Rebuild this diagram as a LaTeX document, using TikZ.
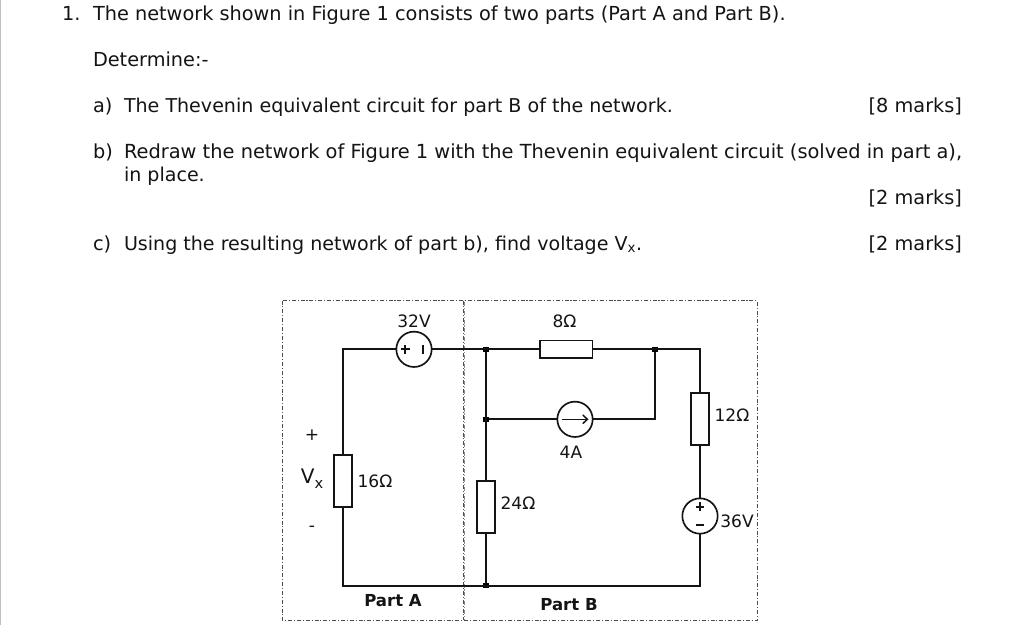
\documentclass[tikz,border=0pt]{standalone}
\usepackage{fontspec}
\usetikzlibrary{arrows.meta}
\setmainfont{DejaVu Sans}
\tikzset{
  x=0.75pt,y=-0.75pt,
  every node/.style={inner sep=0pt,outer sep=0pt,text=black!92},
  txt/.style={anchor=base west,font=\fontsize{14.48}{16}\selectfont},
  txtn/.style={anchor=base west,font=\fontsize{14.3}{16}\selectfont},
  txtb/.style={anchor=base west,font=\fontsize{14.55}{16}\selectfont},
  lbl/.style={anchor=base,font=\fontsize{12.8}{15}\selectfont},
  bold/.style={anchor=base,font=\fontsize{12.4}{15}\selectfont\bfseries},
  wire/.style={draw=black!92,line width=1.25pt,line join=miter},
  res/.style={draw=black!92,fill=white,line width=1.25pt,rectangle},
  src/.style={draw=black!92,fill=white,line width=1.25pt,circle,minimum size=26.5pt},
  dotn/.style={fill=black,rectangle,minimum size=3.8pt},
  border/.style={draw=black!70,line width=0.6pt,dash pattern=on 3pt off 1.4pt on 0.8pt off 1.4pt}
}
\begin{document}
\begin{tikzpicture}
\useasboundingbox (0,0) rectangle (1024,625);
\fill[white] (0,0) rectangle (1024,625);
\fill[black!25] (0,0) rectangle (1,625);
% question text
\node[txt] (q1n) at (62,20) {1.};
\node[txt] (q1) at (93,20) {The network shown in Figure 1 consists of two parts (Part A and Part B).};
\node[txt] (det) at (93,66) {Determine:-};
\node[txt] (an) at (93,112) {a)};
\node[txtn] (a) at (124,112) {The Thevenin equivalent circuit for part B of the network.};
\node[txt,anchor=base east] (am) at (962,112) {[8 marks]};
\node[txt] (bn) at (93,158) {b)};
\node[txtb] (b1) at (124,158) {Redraw the network of Figure 1 with the Thevenin equivalent circuit (solved in part a),};
\node[txtn] (b2) at (124,181) {in place.};
\node[txt,anchor=base east] (bm) at (962,204) {[2 marks]};
\node[txt] (cn) at (93,250) {c)};
\node[txtn] (c) at (124,250) {Using the resulting network of part b), find voltage V\textsubscript{x}.};
\node[txt,anchor=base east] (cm) at (962,250) {[2 marks]};
% borders
\draw[border] (282,300.5) rectangle (757,620);
\draw[border] (463.5,300.5) -- (463.5,620);
\draw[border,draw=black!45] (464.8,302) -- (464.8,620);
% junctions and corners
\coordinate (tl) at (343,349.3);
\coordinate (bl) at (343,585.7);
\coordinate (tr) at (700,349.3);
\coordinate (br) at (700,585.7);
\coordinate (rc) at (655,419.3);
\node[dotn] (j1) at (486,349.3) {};
\node[dotn] (j2) at (486,419.3) {};
\node[dotn] (j3) at (655,349.3) {};
\node[dotn] (j4) at (486,585.7) {};
% wires
\draw[wire] (bl) -- (tl) -- (tr) -- (br) -- cycle;
\draw[wire] (j1) -- (j4);
\draw[wire] (j2) -- (rc) -- (j3);
% components
\node[src] (v32) at (414,349.3) {};
\node[res,minimum width=13.5pt,minimum height=39pt] (r16) at (343,480.7) {};
\node[res,minimum width=39.5pt,minimum height=13pt] (r8) at (566,349.3) {};
\node[res,minimum width=13.5pt,minimum height=39pt] (r12) at (700,419.3) {};
\node[res,minimum width=13.5pt,minimum height=39pt] (r24) at (486,507) {};
\node[src] (i4) at (575,419.3) {};
\node[src] (v36) at (700,516) {};
% symbols in sources
\draw[wire] (401,349.3) -- (409.5,349.3) (405.2,345) -- (405.2,353.6);
\draw[wire] (423,345) -- (423,353.6);
\draw[wire,line width=1.1pt,-{Straight Barb[length=3.5pt,width=6.5pt]}] (562,419.3) -- (588.5,419.3);
\draw[wire] (695.7,506.7) -- (704.3,506.7) (700,502.4) -- (700,511);
\draw[wire] (695.7,524.7) -- (704.3,524.7);
% labels
\node[lbl] (l32) at (414,327) {32V};
\node[lbl] (l8) at (564.5,327) {8Ω};
\node[lbl] (l4) at (571,458.5) {4A};
\node[lbl] (l12) at (732,421) {12Ω};
\node[lbl] (l16) at (375,487) {16Ω};
\node[lbl] (l24) at (518,509) {24Ω};
\node[lbl] (l36) at (737,527) {36V};
\node[lbl] (lp) at (312,440) {+};
\node[lbl] (lm) at (312,531) {-};
\node[anchor=base,font=\fontsize{15}{18}\selectfont] (vx) at (312,483) {V\raisebox{-4pt}{\fontsize{11}{12}\selectfont x}};
\node[bold] (pa) at (393,606) {Part A};
\node[bold] (pb) at (569,610) {Part B};
\end{tikzpicture}
\end{document}
